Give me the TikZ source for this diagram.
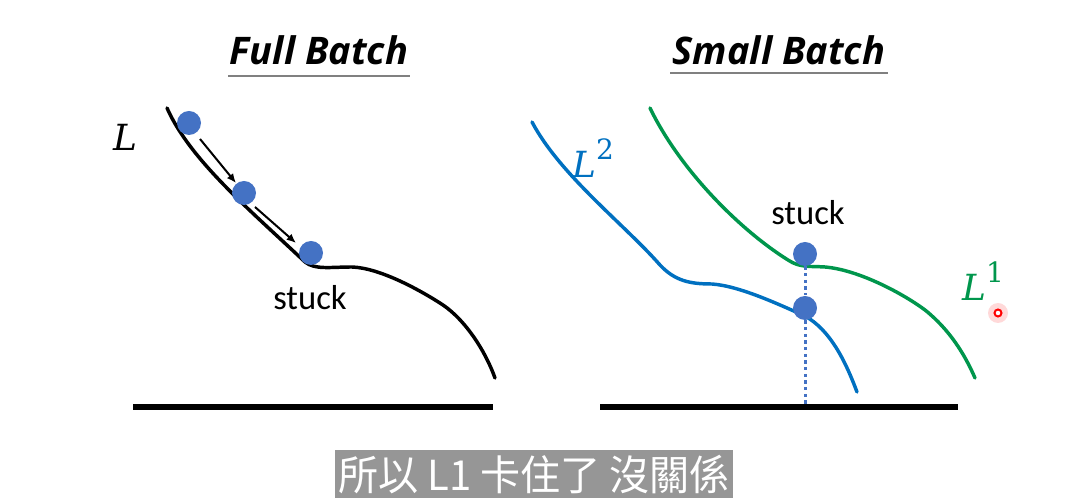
\documentclass[tikz,border=0pt]{standalone}
\usepackage{fontspec}
\usetikzlibrary{arrows.meta}
\newfontfamily\titlefont{Open Sans}
\newfontfamily\stuckfont{Carlito}
\newfontfamily\cjkfont{Noto Sans CJK TC}
\newfontfamily\lossfont{DejaVu Serif}
\definecolor{lossblue}{RGB}{0,112,192}
\definecolor{lossgreen}{RGB}{0,150,76}
\definecolor{dotblue}{RGB}{68,114,196}
\definecolor{subgray}{RGB}{150,150,150}
\newcommand{\losssup}[1]{\raisebox{0.5em}{\upshape\fontsize{21}{22}\selectfont #1}}

\tikzset{every picture/.style={line width=0.75pt}}
\tikzset{
  ball/.style={circle, fill=dotblue, inner sep=0pt, minimum size=18pt},
  curve/.style={line width=2.6pt, line cap=round},
  ground/.style={line width=4.5pt},
  heading/.style={font=\titlefont\bfseries\itshape\fontsize{28.5}{30}\selectfont, inner sep=0pt},
  stucklabel/.style={font=\stuckfont\fontsize{26}{28}\selectfont, inner sep=0pt},
  losslabel/.style={font=\lossfont\fontsize{27}{29}\selectfont, inner sep=0pt}
}

\begin{document}
\begin{tikzpicture}[x=0.75pt,y=0.75pt,yscale=-1,xscale=1]
\path[use as bounding box] (0,0) rectangle (1086,498);

% Full batch
\node [heading] (titleFull) at (319,50) {Full Batch};
\draw [gray, line width=1.5pt] (228,76) -- (410,76) ;
\node [losslabel] (lossL) at (125,137) {\itshape L};
% Curve
\draw [curve] (167,108) .. controls (190,160) and (250,210) .. (305,262) .. controls (315,270) and (330,267) .. (352,267) .. controls (380,268) and (420,290) .. (443,305) .. controls (465,320) and (485,350) .. (495,378) ;
\node [ball] (ballA) at (189,123) {};
\node [ball] (ballB) at (244,193) {};
\node [ball] (ballC) at (311,253) {};
\coordinate (arrA1) at (200,139) ;
\coordinate (arrA2) at (236,183) ;
\coordinate (arrB1) at (255,207) ;
\coordinate (arrB2) at (296,243) ;
% Connection
\draw [-{Latex[length=7pt,width=6pt]}, line width=1.5pt] (arrA1) -- (arrA2) ;
% Connection
\draw [-{Latex[length=7pt,width=6pt]}, line width=1.5pt] (arrB1) -- (arrB2) ;
\node [stucklabel] (stuckFull) at (310,298) {stuck};
\draw [ground] (133,407) -- (493,407) ;

% Small batch
\node [heading] (titleSmall) at (779,50) {Small Batch};
\draw [gray, line width=1.5pt] (670,73) -- (888,73) ;
% Curve L2
\draw [curve, lossblue] (532,122) .. controls (560,175) and (625,225) .. (660,265) .. controls (675,281) and (690,284) .. (712,284) .. controls (740,286) and (780,305) .. (805,316) .. controls (830,330) and (845,360) .. (857,392) ;
% Curve L1
\draw [curve, lossgreen] (650,108) .. controls (680,170) and (740,230) .. (788,260) .. controls (800,268) and (810,266) .. (825,267) .. controls (860,270) and (905,295) .. (925,310) .. controls (950,330) and (965,355) .. (975,378) ;
\node [losslabel, text=lossblue] (lossTwo) at (593,158) {\itshape L\losssup{2}};
\node [losslabel, text=lossgreen] (lossOne) at (983,281) {\itshape L\losssup{1}};
\node [stucklabel] (stuckSmall) at (808,213) {stuck};
\coordinate (floorMark) at (805,405) ;
\node [ball] (ballUp) at (805,254) {};
\node [ball] (ballDown) at (805,308) {};
% Connection
\draw [dotblue, line width=2.25pt, dash pattern=on 2.5pt off 2.5pt] (ballDown) -- (floorMark) ;
\draw [dotblue, line width=2.25pt, dash pattern=on 2.5pt off 2.5pt] (ballUp) -- (ballDown) ;
\draw [ground] (600,407) -- (958,407) ;

% Pointer
\fill [red, opacity=0.15] (998,313) circle [radius=10] ;
\draw [red, line width=1.5pt, fill=white] (998,313) circle [radius=3.5] ;

% Subtitle
\fill [subgray] (335,450) rectangle (733,498) ;
\node [font=\cjkfont\fontsize{31}{33}\selectfont, text=white, inner sep=0pt, xscale=0.97] (subtitle) at (534,475) {所以 L1 卡住了 沒關係};

\end{tikzpicture}
\end{document}
